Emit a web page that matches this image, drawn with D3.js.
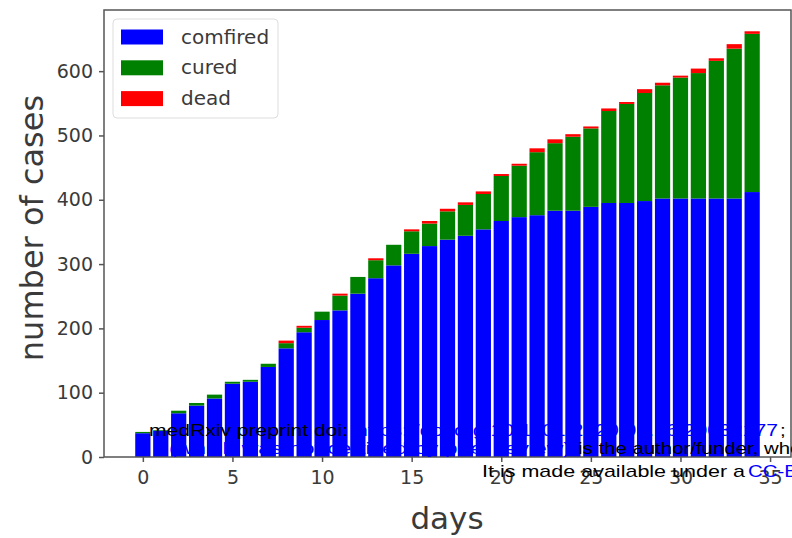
<!DOCTYPE html>
<html>
<head>
<meta charset="utf-8">
<script src="https://cdn.jsdelivr.net/npm/d3@7"></script>
<style>
  html, body { margin: 0; padding: 0; background: #fff; }
  svg { display: block; }
</style>
</head>
<body>
<div id="chart"></div>
<script>
// ---- data ----
const days = d3.range(0, 35);
const confirmed = [37, 41, 68, 80, 91, 114, 117, 140, 169, 194, 213, 228, 254, 278, 298, 316, 328, 338, 344, 354,
                   367, 373, 376, 383, 383, 389, 395, 395, 398, 402, 402, 402, 402, 402, 412];
const cured     = [2, 1, 4, 4, 6, 3, 3, 5, 8, 7, 13, 23, 26, 28, 32, 35, 35, 44, 48, 55,
                   70, 80, 98, 105, 115, 122, 143, 154, 168, 176, 188, 195, 214, 233, 246];
const dead      = [0, 0, 0, 0, 0, 0, 0, 0, 4, 3, 0, 3, 0, 3, 0, 3, 4, 4, 4, 4,
                   3, 3, 6, 6, 4, 3, 4, 3, 6, 4, 3, 7, 4, 7, 4];
const seriesNames = ["comfired", "cured", "dead"];
const seriesColors = ["#0000ff", "#008000", "#ff0000"];
const xTicks = [0, 5, 10, 15, 20, 25, 30, 35];
const yTicks = [0, 100, 200, 300, 400, 500, 600];

// ---- layout ----
const W = 792, H = 538;
const L = 104, R = 791, T = 10, B = 457;
const barW = 0.85;

const svg = d3.select("#chart").append("svg").attr("width", W).attr("height", H)
  .style("font-family", "'DejaVu Sans', sans-serif");

const rows = days.map((d, i) => ({ day: d, comfired: confirmed[i], cured: cured[i], dead: dead[i] }));
const stack = d3.stack().keys(seriesNames)(rows);
const maxTotal = d3.max(rows, r => r.comfired + r.cured + r.dead);

const x0 = -barW / 2, x1 = days[days.length - 1] + barW / 2;
const mx = (x1 - x0) * 0.05;
const x = d3.scaleLinear().domain([x0 - mx, x1 + mx]).range([L, R]);
const y = d3.scaleLinear().domain([0, maxTotal * 1.05]).range([B, T]);

// bars
svg.append("g").selectAll("g").data(stack).join("g")
  .attr("fill", (d, i) => seriesColors[i])
  .selectAll("rect").data(d => d).join("rect")
  .attr("x", d => x(d.data.day - barW / 2))
  .attr("width", d => x(barW) - x(0))
  .attr("y", d => y(d[1]))
  .attr("height", d => Math.max(0, y(d[0]) - y(d[1])));

// axes
const axisColor = "#555";
const xAxis = svg.append("g").attr("transform", `translate(0,${B})`)
  .call(d3.axisBottom(x).tickValues(xTicks).tickSize(5).tickPadding(9).tickFormat(d3.format("d")));
const yAxis = svg.append("g").attr("transform", `translate(${L},0)`)
  .call(d3.axisLeft(y).tickValues(yTicks).tickSize(5).tickPadding(6).tickFormat(d3.format("d")));
[xAxis, yAxis].forEach(a => {
  a.select(".domain").remove();
  a.selectAll(".tick line").attr("stroke", axisColor).attr("stroke-width", 1.5);
  a.selectAll(".tick text").attr("fill", "#3a3a3a").style("font-size", "19px")
    .style("font-family", "'DejaVu Sans', sans-serif");
});

// frame (spines)
svg.append("rect").attr("x", L).attr("y", T).attr("width", R - L).attr("height", B - T)
  .attr("fill", "none").attr("stroke", axisColor).attr("stroke-width", 1.5);

// axis labels
svg.append("text").attr("x", 447).attr("y", 529).attr("text-anchor", "middle")
  .attr("fill", "#3a3a3a").style("font-size", "31px").text("days");
svg.append("text").attr("transform", "translate(43,228) rotate(-90)").attr("text-anchor", "middle")
  .attr("fill", "#3a3a3a").style("font-size", "32px").text("number of cases");

// legend
const lg = svg.append("g");
lg.append("rect").attr("x", 113).attr("y", 19).attr("width", 165).attr("height", 99).attr("rx", 4)
  .attr("fill", "#fff").attr("stroke", "#ddd");
seriesNames.forEach((n, i) => {
  const yy = 29.5 + i * 30.8;
  lg.append("rect").attr("x", 121).attr("y", yy).attr("width", 42).attr("height", 15).attr("fill", seriesColors[i]);
  lg.append("text").attr("x", 181).attr("y", yy + 14).attr("fill", "#3a3a3a").style("font-size", "20px").text(n);
});

// preprint overlay text (horizontally stretched like in the reference)
const ov = svg.append("g").style("font-family", "'Liberation Sans', Arial, sans-serif").style("font-size", "17px");
const seg = (t, xs, yb, len, col) => {
  const e = ov.append("text").attr("x", xs).attr("y", yb).attr("fill", col).text(t);
  const w = len || e.node().getComputedTextLength() * 1.2;
  e.attr("textLength", w).attr("lengthAdjust", "spacingAndGlyphs");
  return e;
};
seg("medRxiv preprint doi:", 149, 436, 199, "#000");
seg("https://doi.org/10.1101/2020.03.16.20032177", 356, 436, 422, "#0000ff");
seg(";", 780, 436, null, "#000");
seg("(which was not certified by peer review)", 169, 454, 402, "#0000ff");
seg("is the author/funder, who has granted medRxiv a license to display the preprint in perpetuity.", 578, 454, null, "#000");
seg("It is made available under a", 482, 477, 263, "#000");
seg("CC-BY-NC-ND 4.0 International license", 748, 477, null, "#0000ff");
</script>
</body>
</html>
